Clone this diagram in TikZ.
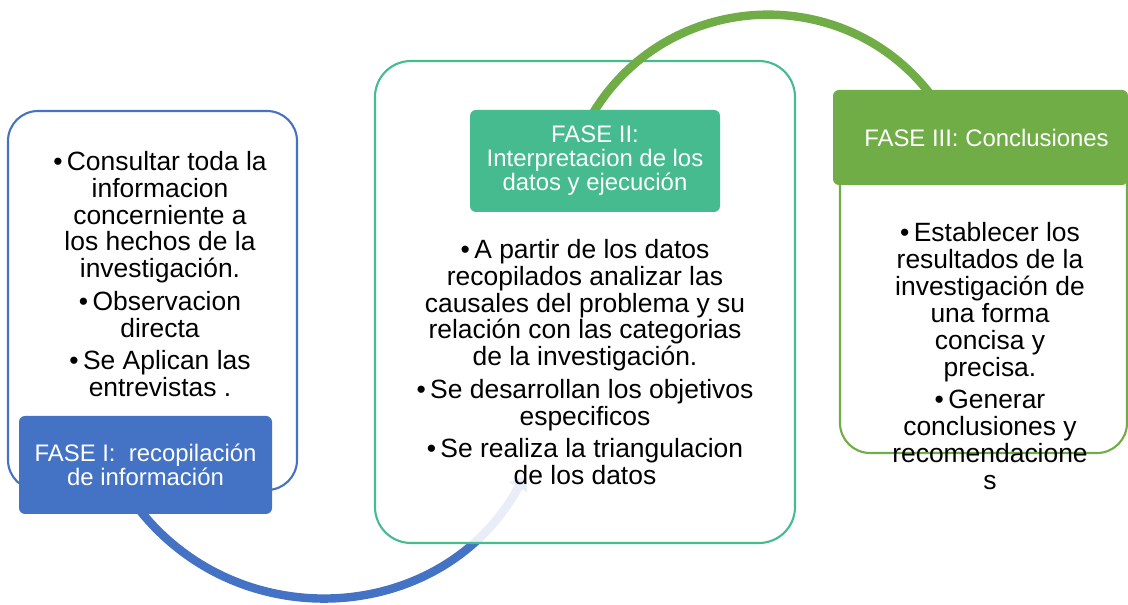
\documentclass[tikz,border=0pt]{standalone}
\usepackage{fontspec}
\setmainfont{Liberation Sans}
\usetikzlibrary{arrows.meta}
\definecolor{azul}{RGB}{68,114,196}
\definecolor{turquesa}{RGB}{69,187,143}
\definecolor{verde}{RGB}{112,173,71}

\begin{document}
\begin{tikzpicture}[
       caja/.style={
         draw,
         fill=white,
         line width=1.5pt,
         rounded corners=0.75cm
       },
       cabecera/.style={
         rounded corners=0.15cm,
         text=white,
         align=center,
         font=\fontsize{17}{17}\selectfont
       },
       texto/.style={
         align=center,
         font=\fontsize{18.8}{19.1}\selectfont
       },
       arco/.style={line width=6pt}
     ]
       \useasboundingbox (0,0) rectangle (28.2,15.125);

       \node (c1) at (3.8125,7.6125) [caja,draw=azul,minimum width=7.225cm,minimum height=9.475cm]{};
       \node (c3) at (24.5875,7.5875) [caja,draw=verde,minimum width=7.175cm,minimum height=7.575cm]{};

       \coordinate (ini1) at (3.3,2.625);
       \coordinate (fin1) at (13.125,3.25);
       \draw[arco,azul,-{Triangle[width=14pt,length=10pt]}] (ini1) to[bend right=58,looseness=1.12] (fin1);

       \node (c2) at (14.625,7.575) [caja,draw=turquesa,fill opacity=0.88,rounded corners=0.9cm,minimum width=10.5cm,minimum height=12.05cm]{};

       \coordinate (ini2) at (14.76,12.1875);
       \coordinate (fin2) at (23.4,12.575);
       \draw[arco,verde] (ini2) to[bend left=57.5,looseness=1.11] (fin2);

       \node (h1) at (3.6375,3.5) [cabecera,fill=azul,minimum width=6.325cm,minimum height=2.45cm]{FASE I:\ \ recopilación\\de información};
       \node (h2) at (14.875,11.1) [cabecera,fill=turquesa,minimum width=6.25cm,minimum height=2.55cm]{FASE II:\\Interpretacion de los\\datos y ejecución};
       \node (h3) at (24.5125,11.6875) [cabecera,fill=verde,minimum width=7.375cm,minimum height=2.375cm]{\hspace{0.3cm}FASE III: Conclusiones};

       \node (t1) at (4.0,8.275) [texto]{•\,Consultar toda la\\informacion\\concerniente a\\los hechos de la\\investigación.\\[4pt]•\,Observacion\\directa\\[4pt]•\,Se Aplican las\\entrevistas .};
       \node (t2) at (14.625,6.075) [texto]{•\,A partir de los datos\\recopilados analizar las\\causales del problema y su\\relación con las categorias\\de la investigación.\\[4pt]•\,Se desarrollan los objetivos\\especificos\\[4pt]•\,Se realiza la triangulacion\\de los datos};
       \node (t3) at (24.75,6.225) [texto]{•\,Establecer los\\resultados de la\\investigación de\\una forma\\concisa y\\precisa.\\[4pt]•\,Generar\\conclusiones y\\recomendacione\\s};

\end{tikzpicture}
\end{document}
